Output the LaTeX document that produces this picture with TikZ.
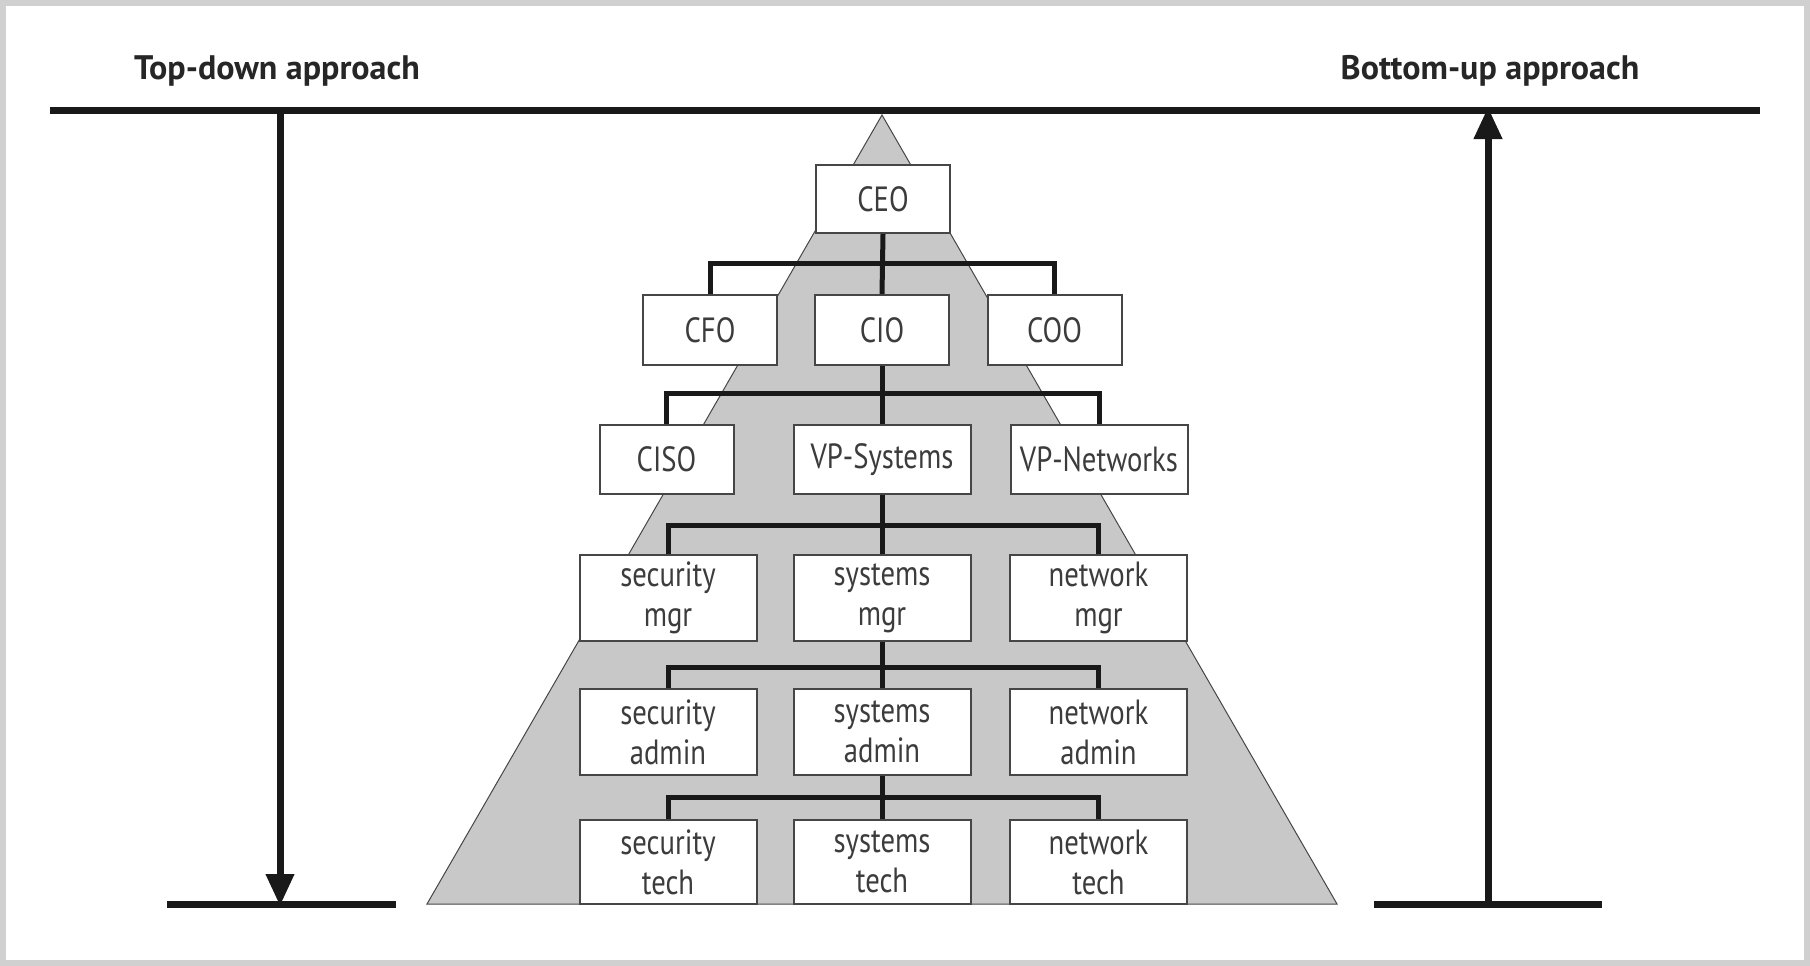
\documentclass[tikz,border=0pt]{standalone}
\usepackage{fontspec}
\setmainfont{PT Sans}[FakeStretch=0.82]
\newfontfamily\titlefont{PT Sans}
\usetikzlibrary{arrows.meta}
\definecolor{pyrgray}{RGB}{200,200,200}
\definecolor{boxline}{RGB}{70,70,70}
\definecolor{txt}{RGB}{60,60,60}
\definecolor{framegray}{RGB}{208,208,208}
\tikzset{
  orgbox/.style={draw=boxline, line width=2pt, fill=white, inner sep=0pt, align=center,
    text=txt, font=\fontsize{35}{40}\selectfont},
  small/.style={orgbox, minimum width=134pt, minimum height=69pt},
  wide/.style={orgbox, minimum width=177pt, minimum height=86pt},
  bus/.style={line width=5pt, black!90},
  heavy/.style={line width=7pt, black!90},
  title/.style={font=\titlefont\bfseries\fontsize{34}{40}\selectfont, text=black!85, inner sep=0pt, anchor=base}
}
\begin{document}
\begin{tikzpicture}[x=1pt,y=-1pt]
\useasboundingbox (0,0) rectangle (1810,966);
\fill[white] (0,0) rectangle (1810,966);
\draw[framegray, line width=6pt] (3,3) rectangle (1807,963);

% titles
\node[title] (td) at (277,80) {Top-down approach};
\node[title] (bu) at (1490,80) {Bottom-up approach};

% pyramid
\filldraw[fill=pyrgray, draw=boxline, line width=1pt] (882,115) -- (1337,904) -- (427,904) -- cycle;

% top line
\coordinate (tl) at (50,110);
\coordinate (tr) at (1760,110);
\draw[heavy] (tl) -- (tr);

% top-down arrow
\coordinate (tdtop) at (280,110);
\coordinate (tdbot) at (280,904);
\draw[heavy, -{Triangle[length=32pt,width=27pt]}] (tdtop) -- ([yshift=-2pt]tdbot);
\coordinate (bll) at (167,904);
\coordinate (blr) at (396,904);
\draw[heavy] (bll) -- (blr);

% bottom-up arrow
\coordinate (bubot) at (1488,904);
\coordinate (butop) at (1488,110);
\draw[heavy, -{Triangle[length=32pt,width=27pt]}] (bubot) -- ([yshift=3pt]butop);
\coordinate (brl) at (1374,904);
\coordinate (brr) at (1602,904);
\draw[heavy] (brl) -- (brr);

% boxes
\node[small, minimum height=68pt] (ceo) at (883,199) {CEO};
\node[small, minimum height=70pt] (cfo) at (710,330) {CFO};
\node[small, minimum height=70pt] (cio) at (882,330) {CIO};
\node[small, minimum height=70pt] (coo) at (1054.5,330) {COO};
\node[small] (ciso) at (666.5,459.5) {CISO};
\node[wide, minimum height=69pt] (vps) at (882,459.5) {VP-Systems};
\node[wide, minimum height=69pt] (vpn) at (1099,459.5) {VP-Networks};
\node[wide] (smgr) at (668,598) {security\\mgr};
\node[wide] (ymgr) at (882,598) {systems\\mgr};
\node[wide] (nmgr) at (1098.5,598) {network\\mgr};
\node[wide] (sadm) at (668,732) {security\\admin};
\node[wide] (yadm) at (882,732) {systems\\admin};
\node[wide] (nadm) at (1098.5,732) {network\\admin};
\node[wide, minimum height=84pt] (stec) at (668,862) {security\\tech};
\node[wide, minimum height=84pt] (ytec) at (882,862) {systems\\tech};
\node[wide, minimum height=84pt] (ntec) at (1098.5,862) {network\\tech};

% connectors
\coordinate (b1) at (0,263);
\coordinate (b2) at (0,393);
\coordinate (b3) at (0,525);
\coordinate (b4) at (0,667);
\coordinate (b5) at (0,797);
\draw[bus] (ceo.south) -- (cio.north);
\draw[bus] (cfo.north) -- (cfo.north |- b1) -- (coo.north |- b1) -- (coo.north);
\draw[bus] (cio.south) -- (vps.north);
\draw[bus] (ciso.north) -- (ciso.north |- b2) -- (vpn.north |- b2) -- (vpn.north);
\draw[bus] (vps.south) -- (ymgr.north);
\draw[bus] (smgr.north) -- (smgr.north |- b3) -- (nmgr.north |- b3) -- (nmgr.north);
\draw[bus] (ymgr.south) -- (yadm.north);
\draw[bus] (sadm.north) -- (sadm.north |- b4) -- (nadm.north |- b4) -- (nadm.north);
\draw[bus] (yadm.south) -- (ytec.north);
\draw[bus] (stec.north) -- (stec.north |- b5) -- (ntec.north |- b5) -- (ntec.north);
\end{tikzpicture}
\end{document}
